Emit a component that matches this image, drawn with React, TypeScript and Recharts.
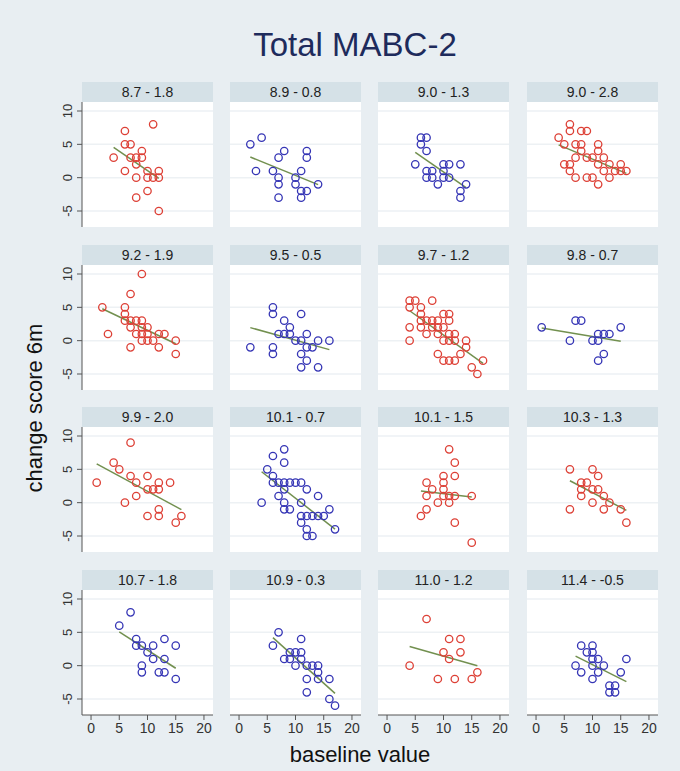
import { ScatterChart, Scatter, XAxis, YAxis, ReferenceLine } from "recharts";

// panel titles: mean baseline - mean change
const titles = [
  "8.7 - 1.8", "8.9 - 0.8", "9.0 - 1.3", "9.0 - 2.8",
  "9.2 - 1.9", "9.5 - 0.5", "9.7 - 1.2", "9.8 - 0.7",
  "9.9 - 2.0", "10.1 - 0.7", "10.1 - 1.5", "10.3 - 1.3",
  "10.7 - 1.8", "10.9 - 0.3", "11.0 - 1.2", "11.4 - -0.5",
];

const groups = [
  "red", "blue", "blue", "red",
  "red", "blue", "red", "blue",
  "red", "blue", "red", "red",
  "blue", "blue", "red", "blue",
];

const xTicks = [0, 5, 10, 15, 20];
const yTicks = [-5, 0, 5, 10];

// [baseline, change]
const p1 = [[4,3],[6,7],[6,5],[7,5],[7,3],[8,3],[9,4],[9,3],[8,2],[6,1],[8,0],[11,8],[10,1],[10,0],[11,0],[12,1],[12,0],[10,-2],[8,-3],[12,-5]];
const p2 = [[2,5],[4,6],[3,1],[6,1],[7,3],[8,4],[7,0],[7,-1],[7,-3],[10,0],[10,-1],[11,1],[11,-2],[11,-3],[12,4],[12,3],[12,-2],[14,-1]];
const p3 = [[6,6],[7,6],[6,5],[7,4],[5,2],[7,1],[8,1],[7,0],[8,0],[9,-1],[10,2],[11,2],[10,1],[10,0],[11,0],[13,2],[14,-1],[13,-2],[13,-3]];
const p4 = [[6,8],[6,7],[8,7],[9,7],[4,6],[5,5],[7,5],[8,5],[8,4],[11,5],[11,4],[7,3],[9,3],[10,3],[11,2],[5,2],[6,2],[6,1],[7,0],[9,0],[10,0],[11,-1],[12,3],[12,1],[13,2],[13,0],[14,1],[15,2],[15,1],[16,1]];
const p5 = [[2,5],[3,1],[6,5],[6,4],[6,3],[7,7],[9,10],[7,3],[7,2],[7,-1],[8,3],[8,1],[9,3],[9,2],[9,1],[9,0],[10,2],[10,1],[10,0],[11,0],[12,1],[12,-1],[13,1],[15,0],[15,-2]];
const p6 = [[2,-1],[6,5],[6,4],[6,-1],[6,-2],[7,1],[8,3],[8,1],[9,2],[9,1],[10,0],[11,4],[11,0],[11,-2],[11,-4],[12,1],[12,-1],[12,-3],[13,-1],[14,0],[14,-4],[16,0]];
const p7 = [[4,6],[5,6],[4,5],[4,2],[4,0],[8,6],[6,5],[6,4],[6,3],[7,3],[8,3],[9,3],[6,2],[7,1],[8,2],[9,2],[9,1],[10,4],[11,4],[11,3],[10,2],[11,1],[12,1],[10,0],[11,0],[12,0],[14,0],[14,-1],[9,-2],[10,-3],[11,-3],[12,-3],[13,-2],[17,-3],[15,-4],[16,-5]];
const p8 = [[1,2],[7,3],[8,3],[6,0],[10,0],[11,1],[11,0],[11,-3],[12,1],[13,1],[12,-2],[15,2]];
const p9 = [[1,3],[4,6],[5,5],[7,9],[7,4],[8,3],[6,0],[8,1],[10,4],[10,2],[11,2],[12,2],[12,3],[14,3],[12,-1],[12,-2],[10,-2],[15,-3],[16,-2]];
const p10 = [[4,0],[5,5],[6,7],[8,8],[8,6],[6,4],[6,3],[7,3],[8,3],[9,3],[10,3],[11,3],[8,2],[7,1],[8,0],[8,-1],[9,-1],[12,2],[11,0],[14,1],[11,-2],[11,-3],[12,-2],[13,-2],[14,-2],[15,-2],[16,-1],[12,-4],[12,-5],[13,-5],[17,-4]];
const p11 = [[11,8],[12,6],[12,4],[10,4],[10,3],[7,3],[8,2],[10,2],[7,1],[10,1],[11,1],[12,1],[15,1],[9,0],[11,0],[7,-1],[6,-2],[12,-3],[15,-6]];
const p12 = [[6,5],[6,-1],[8,3],[9,3],[8,2],[10,2],[8,1],[10,5],[11,4],[10,0],[11,2],[12,1],[12,-1],[13,0],[15,-1],[16,-3]];
const p13 = [[5,6],[7,8],[8,4],[8,3],[9,3],[10,2],[11,3],[11,1],[9,0],[9,-1],[13,4],[13,1],[12,-1],[13,-1],[15,3],[15,-2]];
const p14 = [[6,3],[7,5],[8,1],[9,2],[9,1],[10,2],[10,0],[11,4],[11,2],[11,1],[12,0],[12,-2],[12,-4],[13,0],[14,0],[14,-1],[14,-2],[16,-2],[16,-5],[17,-6]];
const p15 = [[4,0],[7,7],[11,4],[13,4],[10,2],[13,2],[11,1],[9,-2],[12,-2],[15,-2],[16,-1]];
const p16 = [[7,0],[8,-1],[8,3],[9,2],[10,3],[10,2],[10,1],[10,0],[10,-2],[11,1],[11,-1],[12,0],[13,-3],[13,-4],[14,-3],[14,-4],[15,-1],[16,1]];

const panels = [p1, p2, p3, p4, p5, p6, p7, p8, p9, p10, p11, p12, p13, p14, p15, p16];

const colors: Record<string, string> = { red: "#dd4036", blue: "#3535b5" };
const fitColor = "#72904f";
const font = "'Liberation Sans', Arial, sans-serif";

const colLeft = [82, 230, 378, 527];
const rowTop = [102, 264.5, 427, 589.5];
const plotW = 131;
const plotH = 125;
const headH = 20;
const yAxisW = 30;
const xAxisH = 30;

function YTick(props: any) {
  const { x, y, payload } = props;
  const bx = x - 3;
  return (
    <text
      x={bx}
      y={y}
      transform={`rotate(-90 ${bx} ${y})`}
      textAnchor="middle"
      fontSize={13}
      fill="#333"
      fontFamily={font}
    >
      {payload.value}
    </text>
  );
}

function Panel({ i }: { i: number }) {
  const col = i % 4;
  const row = Math.floor(i / 4);
  const first = col === 0;
  const last = row === 3;
  const color = colors[groups[i]];
  const data = panels[i].map(([x, y]) => ({ x, y }));
  const w = plotW + (first ? yAxisW : 0);
  const h = plotH + (last ? xAxisH : 0);
  const left = colLeft[col] - (first ? yAxisW : 0);
  const top = rowTop[row];

  return (
    <>
      <div
        style={{
          position: "absolute",
          left: colLeft[col],
          top: top - headH,
          width: plotW,
          height: headH,
          background: "#d5e1e7",
          color: "#222",
          fontFamily: font,
          fontSize: 14,
          lineHeight: headH + "px",
          textAlign: "center",
        }}
      >
        {titles[i]}
      </div>
      <div
        style={{
          position: "absolute",
          left: colLeft[col],
          top,
          width: plotW,
          height: plotH,
          background: "#fff",
        }}
      />
      <div style={{ position: "absolute", left, top }}>
        <ScatterChart width={w} height={h} margin={{ top: 0, right: 0, bottom: 0, left: 0 }}>
          <XAxis
            type="number"
            dataKey="x"
            domain={[-1.6, 21.6]}
            ticks={xTicks}
            allowDataOverflow
            hide={!last}
            height={xAxisH}
            stroke="#555"
            tickSize={5}
            tickMargin={3}
            tick={{ fontSize: 14, fill: "#333", fontFamily: font }}
          />
          <YAxis
            type="number"
            dataKey="y"
            domain={[-7.4, 11.35]}
            ticks={yTicks}
            allowDataOverflow
            hide={!first}
            width={yAxisW}
            stroke="#555"
            tickSize={5}
            tick={<YTick />}
          />
          {yTicks.map((t) => (
            <ReferenceLine key={t} y={t} stroke="#edf1f4" strokeWidth={1.5} />
          ))}
          <Scatter
            data={data}
            isAnimationActive={false}
            line={{ stroke: fitColor, strokeWidth: 1.5 }}
            lineType="fitting"
            shape={(p: any) => (
              <circle cx={p.cx} cy={p.cy} r={3.7} fill="none" stroke={color} strokeWidth={1.3} />
            )}
          />
        </ScatterChart>
      </div>
    </>
  );
}

export default function App() {
  return (
    <div
      style={{
        position: "absolute",
        left: 0,
        top: 0,
        width: 680,
        height: 771,
        background: "#e8eef2",
        overflow: "hidden",
      }}
    >
      <div
        style={{
          position: "absolute",
          left: 180,
          top: 26,
          width: 350,
          textAlign: "center",
          fontFamily: font,
          fontSize: 33,
          color: "#1e2b5c",
        }}
      >
        Total MABC-2
      </div>
      <div
        style={{
          position: "absolute",
          left: 35 - 120,
          top: 408 - 14,
          width: 240,
          height: 28,
          lineHeight: "28px",
          textAlign: "center",
          transform: "rotate(-90deg)",
          fontFamily: font,
          fontSize: 22,
          color: "#111",
        }}
      >
        change score 6m
      </div>
      <div
        style={{
          position: "absolute",
          left: 240,
          top: 742,
          width: 240,
          textAlign: "center",
          fontFamily: font,
          fontSize: 22,
          color: "#111",
        }}
      >
        baseline value
      </div>
      {panels.map((_, i) => (
        <Panel key={i} i={i} />
      ))}
    </div>
  );
}
